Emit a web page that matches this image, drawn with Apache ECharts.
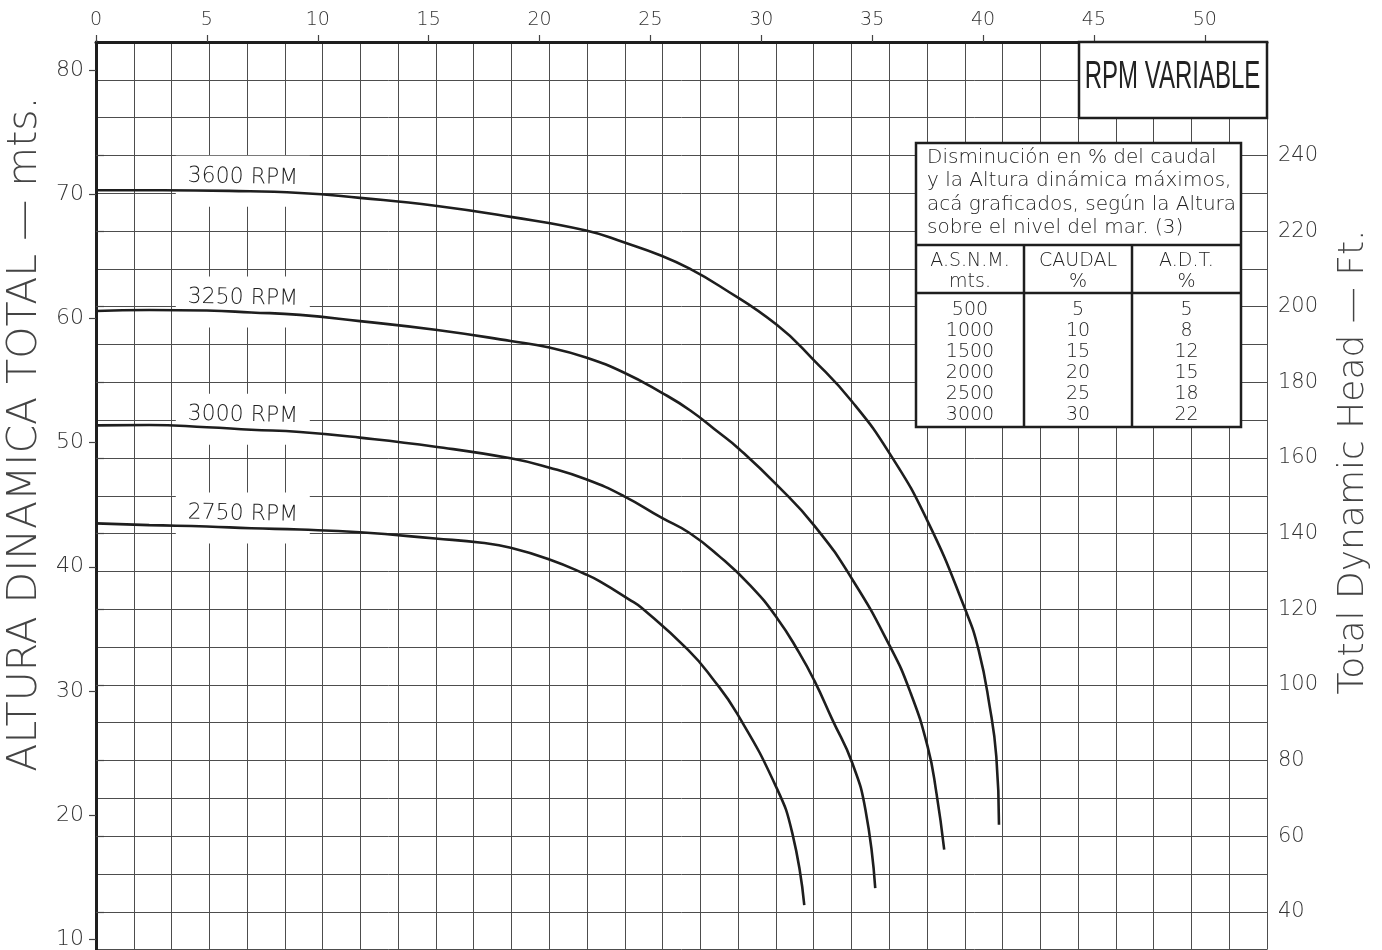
<!DOCTYPE html>
<html>
<head>
<meta charset="utf-8">
<script src="https://cdn.jsdelivr.net/npm/echarts@6/dist/echarts.min.js"></script>
<style>
  html, body { margin: 0; padding: 0; background: #fff; }
  #chart { width: 1382px; height: 950px; }
</style>
</head>
<body>
<div id="chart"></div>
<script>
// Pump curves: flow (top axis, m3/h) against total dynamic head (m)
const flow3600 = [0, 3, 6, 9.2, 11.9, 15.3, 18.7, 22.1, 23.8, 25.5, 26.8, 28.1, 30.7, 32.4, 34.1, 35.8, 37.5, 39.2, 39.8, 40.3, 40.6, 40.72];
const head3600 = [70.35, 70.35, 70.3, 70.13, 69.73, 69.1, 68.2, 67.1, 66.15, 65.07, 64.0, 62.65, 59.5, 56.6, 53.3, 49.1, 43.68, 36.55, 33.3, 28.75, 24.7, 19.2];

const flow3250 = [0, 2.4, 5, 7, 9.2, 11.9, 15.3, 18.7, 20.45, 22.1, 23.8, 25.5, 26.8, 28.1, 29.0, 30.7, 32.4, 34.1, 35.8, 36.7, 37.5, 37.9, 38.25];
const head3250 = [60.62, 60.7, 60.65, 60.5, 60.3, 59.8, 59.1, 58.2, 57.67, 56.87, 55.66, 54.04, 52.6, 50.8, 49.5, 46.6, 43.3, 39.0, 33.6, 30.0, 25.52, 21.76, 17.2];

const flow3000 = [0, 2.4, 5, 7, 9.2, 11.9, 15.3, 18.7, 20.45, 22.1, 23.8, 25.5, 26.75, 28.1, 29.5, 30.7, 31.7, 32.4, 33.2, 34.1, 34.7, 35.14];
const head3000 = [51.4, 51.43, 51.25, 51.05, 50.86, 50.41, 49.68, 48.74, 47.99, 47.05, 45.7, 43.96, 42.74, 40.86, 38.5, 35.9, 33.1, 30.8, 27.7, 24.2, 20.4, 14.1];

const flow2750 = [0, 2.4, 5, 7, 9.2, 11.9, 15.3, 17.4, 18.7, 20.45, 22.1, 22.7, 24.05, 24.6, 26.7, 27.8, 28.9, 30.66, 31.4, 31.94];
const head2750 = [43.5, 43.36, 43.25, 43.1, 43.0, 42.78, 42.28, 41.93, 41.53, 40.59, 39.38, 38.84, 37.36, 36.69, 33.3, 31.0, 28.2, 22.3, 18.53, 12.74];

const rpmNames = ['3600 RPM', '3250 RPM', '3000 RPM', '2750 RPM'];

// tick labels
const flowTicks = [0, 5, 10, 15, 20, 25, 30, 35, 40, 45, 50];
const headTicksM = [10, 20, 30, 40, 50, 60, 70, 80];
const headTicksFt = [40, 60, 80, 100, 120, 140, 160, 180, 200, 220, 240];

// altitude correction table
const tableTitle = ['Disminución en % del caudal', 'y la Altura dinámica máximos,', 'acá graficados, según la Altura', 'sobre el nivel del mar. (3)'];
const tableHeads = [['A.S.N.M.', 'mts.'], ['CAUDAL', '%'], ['A.D.T.', '%']];
const asnm = [500, 1000, 1500, 2000, 2500, 3000];
const caudalPct = [5, 10, 15, 20, 25, 30];
const adtPct = [5, 8, 12, 15, 18, 22];

const M_TO_FT = 3.28084;
const GPM_PER_M3H = 4.40287;
// the drawing grid is 7.5 GPM by 10 ft
const cellX = 7.5 / GPM_PER_M3H;
const xMax = 31 * cellX;
const ftMin = 30, ftMax = 270;
const labelFlow = 6.62;

const FONT = "'DejaVu Sans', sans-serif";
const LIGHT = 200;
const INK = '#1e1e1e';
const GRID = '#4d4d4d';

function headAt(flow, head, x) {
  for (let i = 1; i < flow.length; i++) {
    if (x <= flow[i]) {
      const t = (x - flow[i - 1]) / (flow[i] - flow[i - 1]);
      return head[i - 1] + t * (head[i] - head[i - 1]);
    }
  }
  return head[head.length - 1];
}

const curves = [[flow3600, head3600], [flow3250, head3250], [flow3000, head3000], [flow2750, head2750]];

const series = curves.map(([f, h], i) => ({
  name: rpmNames[i],
  type: 'line',
  xAxisIndex: 0,
  yAxisIndex: 0,
  z: 10,
  data: f.map((x, k) => [x, h[k]]),
  smooth: 0.5,
  symbol: 'none',
  lineStyle: { color: INK, width: 2.6 },
  markPoint: {
    z: 5,
    silent: true,
    symbol: 'rect',
    symbolSize: [134, 51],
    symbolOffset: [0, -10],
    itemStyle: { color: '#fff', borderWidth: 0 },
    label: {
      show: true,
      position: 'inside',
      offset: [0, -4],
      rotate: -1.2,
      formatter: rpmNames[i],
      color: '#222',
      fontSize: 22,
      fontFamily: FONT,
      fontWeight: LIGHT
    },
    data: [{ coord: [labelFlow, headAt(f, h, labelFlow)] }]
  }
}));

// table graphics
const tx0 = 916, tx1 = 1241, ty0 = 143, ty1 = 427, tyTitle = 245, tyHead = 293;
const colX = [tx0, 1024, 1132, tx1];
const tableEls = [
  { type: 'rect', shape: { x: tx0, y: ty0, width: tx1 - tx0, height: ty1 - ty0 }, style: { fill: '#fff', stroke: INK, lineWidth: 2.5 } },
  { type: 'line', shape: { x1: tx0, y1: tyTitle, x2: tx1, y2: tyTitle }, style: { stroke: INK, lineWidth: 2.5 } },
  { type: 'line', shape: { x1: tx0, y1: tyHead, x2: tx1, y2: tyHead }, style: { stroke: INK, lineWidth: 2.5 } },
  { type: 'line', shape: { x1: colX[1], y1: tyTitle, x2: colX[1], y2: ty1 }, style: { stroke: INK, lineWidth: 2.5 } },
  { type: 'line', shape: { x1: colX[2], y1: tyTitle, x2: colX[2], y2: ty1 }, style: { stroke: INK, lineWidth: 2.5 } },
  { type: 'text', x: 927, y: 146, style: { text: tableTitle.join('\n'), font: `${LIGHT} 20px ${FONT}`, fill: '#222', lineHeight: 23.5, verticalAlign: 'top' } }
];
const cols = [asnm, caudalPct, adtPct];
cols.forEach((vals, c) => {
  const cx = (colX[c] + colX[c + 1]) / 2;
  tableEls.push({ type: 'text', x: cx, y: 271.5, style: { text: tableHeads[c].join('\n'), font: `${LIGHT} 19px ${FONT}`, fill: '#222', lineHeight: 20.5, align: 'center', verticalAlign: 'middle' } });
  tableEls.push({ type: 'text', x: cx, y: 362.5, style: { text: vals.join('\n'), font: `${LIGHT} 19px ${FONT}`, fill: '#222', lineHeight: 21, align: 'center', verticalAlign: 'middle' } });
});

const graphicEls = tableEls.concat([
  { type: 'rect', shape: { x: 1079, y: 42, width: 188, height: 76 }, style: { fill: '#fff', stroke: INK, lineWidth: 2.5 } },
  { type: 'text', x: 1172.5, y: 77, scaleX: 0.8, scaleY: 1.3, style: { text: 'RPM VARIABLE', font: "30px 'Liberation Sans', sans-serif", fill: '#222', align: 'center', verticalAlign: 'middle' } },
  { type: 'text', x: 25, y: 434, rotation: Math.PI / 2, style: { text: 'ALTURA DINAMICA TOTAL — mts.', font: `${LIGHT} 41px ${FONT}`, fill: '#444', align: 'center', verticalAlign: 'middle' } },
  { type: 'text', x: 1354, y: 462, rotation: Math.PI / 2, style: { text: 'Total Dynamic Head — Ft.', font: `${LIGHT} 36px ${FONT}`, fill: '#444', align: 'center', verticalAlign: 'middle' } }
]).map(el => Object.assign({ z: 20, silent: true }, el));

const axisText = (size) => ({ fontSize: size, color: '#333', fontFamily: FONT, fontWeight: LIGHT });

const chart = echarts.init(document.getElementById('chart'), null, { renderer: 'canvas' });

chart.setOption({
  animation: false,
  backgroundColor: '#fff',
  grid: { left: 96, right: 115, top: 42, bottom: 0 },
  xAxis: [
    {
      type: 'value', position: 'top', min: 0, max: xMax,
      axisLine: { show: true, lineStyle: { color: INK, width: 3 } },
      axisTick: { show: true, length: 7, customValues: flowTicks, lineStyle: { color: '#444', width: 1.2 } },
      axisLabel: Object.assign({ margin: 12, customValues: flowTicks }, axisText(19)),
      splitLine: { show: false }
    },
    {
      type: 'value', position: 'bottom', min: 0, max: xMax, interval: cellX,
      axisLine: { show: false }, axisTick: { show: false }, axisLabel: { show: false },
      splitLine: { show: true, lineStyle: { color: GRID, width: 1 } }
    }
  ],
  yAxis: [
    {
      type: 'value', position: 'left', min: ftMin / M_TO_FT, max: ftMax / M_TO_FT,
      axisLine: { show: true, lineStyle: { color: INK, width: 3 } },
      axisTick: { show: true, length: 7, customValues: headTicksM, lineStyle: { color: '#444', width: 1.2 } },
      axisLabel: Object.assign({ margin: 12, customValues: headTicksM }, axisText(22)),
      splitLine: { show: false }
    },
    {
      type: 'value', position: 'right', min: ftMin, max: ftMax,
      axisLine: { show: true, lineStyle: { color: INK, width: 3 } },
      axisTick: { show: true, length: 8, customValues: headTicksFt, lineStyle: { color: '#444', width: 1.2 } },
      axisLabel: Object.assign({ margin: 11, customValues: headTicksFt }, axisText(21)),
      splitLine: { show: false }
    },
    {
      type: 'value', position: 'right', min: ftMin, max: ftMax, interval: 10,
      axisLine: { show: false }, axisTick: { show: false }, axisLabel: { show: false },
      splitLine: { show: true, lineStyle: { color: GRID, width: 1 } }
    }
  ],
  series: series,
  graphic: { elements: graphicEls }
});
</script>
</body>
</html>
